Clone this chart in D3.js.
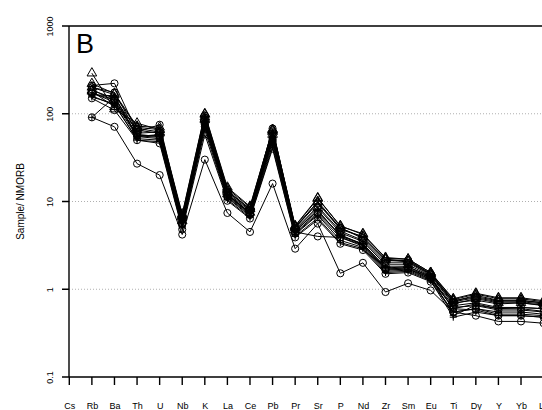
<!DOCTYPE html>
<html>
<head>
<meta charset="utf-8">
<script src="https://cdn.jsdelivr.net/npm/d3@7"></script>
<style>
  body { margin: 0; background: #fff; }
  text { font-family: "Liberation Sans", Arial, sans-serif; fill: #000; }
</style>
</head>
<body>
<svg id="chart" width="542" height="410"></svg>
<script>
// elements along the x axis
const elements = ["Cs","Rb","Ba","Th","U","Nb","K","La","Ce","Pb","Pr","Sr","P","Nd","Zr","Sm","Eu","Ti","Dy","Y","Yb","Lu"];
const yTicks = [0.1, 1, 10, 100, 1000];

// samples normalised to NMORB (Cs not measured)
const s1  = [null, 290, 113, 78, 66, 7.0, 98, 14, 8.6, 66, 5.2, 10.8, 5.3, 4.2, 2.3, 2.2, 1.55, 0.76, 0.88, 0.78, 0.78, 0.72];
const s2  = [null, 210, 222, 62, 75, 6.5, 95, 13, 8.0, 68, 5.0, 9.5, 5.0, 3.8, 2.1, 2.15, 1.5, 0.72, 0.8, 0.72, 0.72, 0.68];
const s3  = [null, 200, 175, 60, 62, 6.2, 90, 12.5, 7.8, 60, 4.8, 8.8, 4.6, 3.6, 2.0, 2.0, 1.45, 0.7, 0.75, 0.68, 0.7, 0.65];
const s4  = [null, 165, 160, 55, 58, 5.8, 82, 12, 7.4, 55, 4.6, 8.0, 4.0, 3.3, 1.8, 1.8, 1.4, 0.5, 0.66, 0.6, 0.62, 0.6];
const s5  = [null, 185, 150, 65, 60, 6.0, 85, 12.2, 7.5, 58, 4.7, 8.5, 4.4, 3.5, 1.9, 1.9, 1.42, 0.68, 0.78, 0.7, 0.7, 0.66];
const s6  = [null, 190, 140, 58, 55, 5.6, 75, 11.5, 7.2, 50, 4.4, 7.5, 4.2, 3.2, 1.7, 1.75, 1.35, 0.65, 0.7, 0.62, 0.62, 0.6];
const s7  = [null, 160, 125, 52, 50, 5.2, 70, 11, 6.8, 45, 4.2, 7.0, 3.6, 3.0, 1.6, 1.65, 1.28, 0.55, 0.6, 0.55, 0.55, 0.52];
const s8  = [null, 175, 135, 55, 52, 5.5, 72, 11.2, 7.0, 48, 4.3, 7.2, 3.9, 3.1, 1.65, 1.7, 1.3, 0.62, 0.65, 0.58, 0.58, 0.55];
const s9  = [null, 180, 120, 68, 62, 6.8, 88, 13.5, 8.2, 62, 5.1, 9.8, 4.8, 4.0, 2.2, 2.1, 1.5, 0.73, 0.85, 0.75, 0.75, 0.7];
const s10 = [null, 155, 130, 50, 48, 5.0, 65, 10.5, 6.6, 42, 4.0, 6.5, 3.4, 2.9, 1.55, 1.6, 1.25, 0.48, 0.55, 0.5, 0.5, 0.48];
const s11 = [null, 170, 145, 57, 56, 5.7, 78, 11.8, 7.3, 52, 4.5, 4.0, 3.9, 3.2, 1.7, 1.7, 1.35, 0.6, 0.58, 0.5, 0.5, 0.48];
const s12 = [null, 91, 71, 27, 20, 4.2, 30, 7.4, 4.5, 16, 2.9, 5.6, 1.52, 2.0, 0.93, 1.17, 0.97, 0.55, 0.5, 0.43, 0.43, 0.41];
const s13 = [null, 91, 155, 56, 54, 5.9, 80, 12, 7.4, 54, 4.6, 7.8, 4.1, 3.3, 1.75, 1.8, 1.38, 0.6, 0.68, 0.6, 0.6, 0.56];
const s14 = [null, 200, 165, 70, 66, 6.6, 92, 13, 8.3, 64, 5.0, 10, 5.0, 3.9, 2.15, 2.05, 1.48, 0.74, 0.82, 0.74, 0.74, 0.7];
const s15 = [null, 150, 110, 50, 46, 4.8, 58, 10.2, 6.4, 40, 3.9, 6.2, 3.3, 2.8, 1.5, 1.55, 1.22, 0.55, 0.6, 0.52, 0.52, 0.5];
const s16 = [null, 220, 170, 72, 70, 7.2, 100, 14.5, 8.8, 66, 5.3, 11, 5.2, 4.3, 2.25, 2.2, 1.55, 0.78, 0.9, 0.8, 0.8, 0.74];

const samples = [
  {vals: s1, sym: "tri"}, {vals: s2, sym: "circ"}, {vals: s3, sym: "circ"},
  {vals: s4, sym: "plus"}, {vals: s5, sym: "tri"}, {vals: s6, sym: "circ"},
  {vals: s7, sym: "plus"}, {vals: s8, sym: "circ"}, {vals: s9, sym: "tri"},
  {vals: s10, sym: "plus"}, {vals: s11, sym: "circ"}, {vals: s12, sym: "circ"},
  {vals: s13, sym: "plus"}, {vals: s14, sym: "tri"}, {vals: s15, sym: "circ"},
  {vals: s16, sym: "tri"}
];

const svg = d3.select("#chart");
const plotLeft = 69, plotTop = 26, plotBottom = 377;

const x = d3.scaleLinear().domain([0, elements.length - 1]).range([69.3, 543.6]);
const y = d3.scaleLog().domain([0.1, 1000]).range([plotBottom, plotTop]);

// dotted grid
svg.append("g").selectAll("line")
  .data([1, 10, 100])
  .enter().append("line")
  .attr("x1", plotLeft).attr("x2", 542)
  .attr("y1", d => y(d)).attr("y2", d => y(d))
  .attr("stroke", "#b0b0b0")
  .attr("stroke-dasharray", "1,2");

// y axis labels
const yAxis = svg.append("g")
  .attr("transform", `translate(${plotLeft},0)`)
  .call(d3.axisLeft(y).tickValues(yTicks).tickFormat(d3.format("")).tickSize(0).tickPadding(0));
yAxis.select(".domain").remove();
yAxis.selectAll(".tick text")
  .attr("font-size", 9)
  .attr("text-anchor", "middle")
  .attr("x", null).attr("y", null).attr("dy", null)
  .attr("transform", "translate(-16,0) rotate(-90)");

// x axis labels
const xAxis = svg.append("g")
  .attr("transform", `translate(0,${plotBottom})`)
  .call(d3.axisBottom(x).tickValues(d3.range(elements.length)).tickFormat(i => elements[i]).tickSize(0).tickPadding(27));
xAxis.select(".domain").remove();
xAxis.selectAll(".tick text").attr("font-size", 9).attr("dy", "0.6em");

// box (top, left, bottom) plus tick marks, one path
let frame = `M542,${plotTop}H${plotLeft}V${plotBottom}H542`;
yTicks.forEach(t => { frame += `M${plotLeft - 7},${y(t)}H${plotLeft}`; });
d3.range(elements.length).forEach(i => { frame += `M${x(i)},${plotBottom}V${plotBottom + 8}`; });
svg.append("path")
  .attr("d", frame)
  .attr("fill", "none").attr("stroke", "#000").attr("stroke-width", 1.4);

// axis title
svg.append("text")
  .attr("transform", `translate(24,${(plotTop + plotBottom) / 2}) rotate(-90)`)
  .attr("text-anchor", "middle")
  .attr("font-size", 10)
  .text("Sample/ NMORB");

svg.append("text")
  .attr("x", 76).attr("y", 53)
  .attr("font-size", 27)
  .text("B");

const line = d3.line()
  .defined(d => d != null)
  .x((d, i) => x(i))
  .y(d => y(d));

const plot = svg.append("g");

samples.forEach(s => {
  plot.append("path")
    .attr("d", line(s.vals))
    .attr("fill", "none").attr("stroke", "#000").attr("stroke-width", 1);
});

const symType = {circ: d3.symbolCircle, tri: d3.symbolTriangle};
const symSize = {circ: 40, tri: 40};

samples.forEach(s => {
  s.vals.forEach((v, i) => {
    if (v == null) return;
    const g = plot.append("g").attr("transform", `translate(${x(i)},${y(v)})`);
    if (s.sym === "plus") {
      g.append("path").attr("d", "M-3.5,0H3.5M0,-3.5V3.5")
        .attr("stroke", "#000").attr("stroke-width", 1);
    } else {
      g.append("path")
        .attr("d", d3.symbol().type(symType[s.sym]).size(symSize[s.sym])())
        .attr("fill", "none").attr("stroke", "#000").attr("stroke-width", 1);
    }
  });
});
</script>
</body>
</html>
